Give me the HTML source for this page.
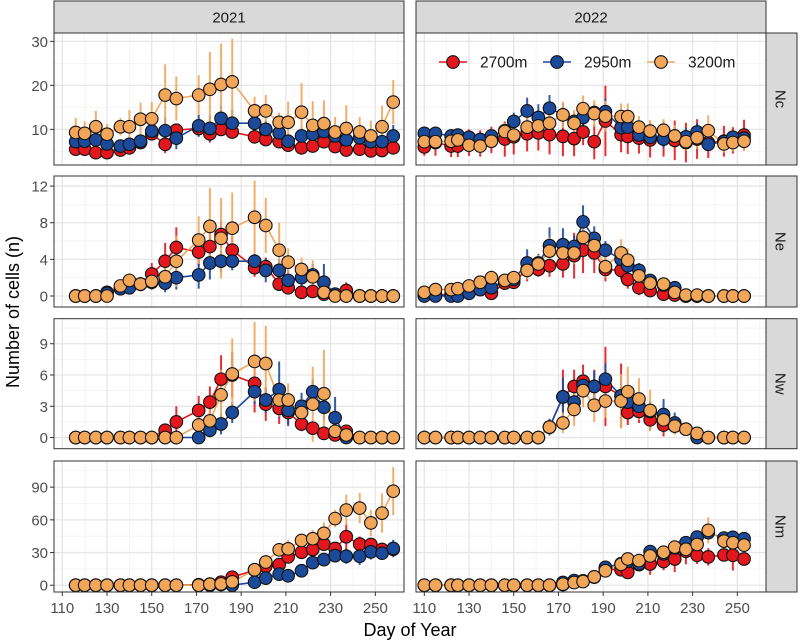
<!DOCTYPE html>
<html><head><meta charset="utf-8"><style>
html,body{margin:0;padding:0;background:#fff;}
svg{display:block;font-family:"Liberation Sans",Arial,sans-serif;}
</style></head><body>
<svg id="chart" width="800" height="643" xmlns="http://www.w3.org/2000/svg"></svg>
<script>
const years=["2021","2022"];
const rowsNames=["Nc","Ne","Nw","Nm"];
const series=["2700m","2950m","3200m"];
const days2021=[116,120,125,130,136,140,145,150,156,161,171,176,181,186,196,201,207,211,217,222,227,232,237,243,248,253,258];
const days2022=[110,115,122,125,130,135,140,146,150,156,161,166,172,177,181,186,191,198,201,206,211,217,222,227,232,237,244,248,253];
const xTicks=[110,130,150,170,190,210,230,250];
const yTicksNc=[10,20,30],yTicksNe=[0,4,8,12],yTicksNw=[0,3,6,9],yTicksNm=[0,30,60,90];
// Nc
const nc21_r=[5.5,5.5,4.7,4.7,5.3,5.8,7,9,6.6,9.8,10.2,9.0,10,9.4,8.3,7.7,7.2,6.4,5.8,6.2,7.2,6.1,5.3,5.5,5.1,5.2,5.8];
const nc21_b=[7.2,7.3,7.6,6.7,6.2,6.6,7.3,9.6,9.7,8.0,10.8,10.2,12.5,11.4,11.4,10,9.2,7.3,8.5,8.9,9.5,8.5,7.6,8.1,7.2,7.2,8.5];
const nc21_o=[9.3,9.1,10.6,8.9,10.6,10.6,12.3,12.4,17.8,17,17.8,19.1,20.2,20.8,14.2,14.2,11.6,11.6,13.9,10.9,11.3,9.4,10.2,9.4,8.5,10.6,16.2];
const nc21_re=[0.6,0.6,0.6,0.7,0.8,0.8,1,1.5,2,1.5,1.5,2,1.5,1.5,1.5,1.5,1,1.5,1,1,1,1,1,1,1,1,1];
const nc21_be=[1,1,1,1,1.5,1.5,1.5,2,3,2.5,2.5,3,3,3,2,2,2,1.5,2,2.5,2,2,2,1.5,1.5,1.5,2.5];
const nc21_oe=[3.3,2.7,3.6,2.3,2,3.8,3.8,3.8,7,5,4.5,8.5,9.3,9.8,3.2,3.6,2.2,4.7,6.6,5.5,5.3,3.4,5.3,3.4,3.5,4.8,5];
const nc22_r=[6,7,6.2,6.2,7,6.8,7.6,7.8,8.3,9,9.2,8.8,8.4,7.9,9.4,7.2,11.9,8.8,8.4,8,7.6,7.8,7.5,7,7.8,7,7.3,7.5,8.7];
const nc22_b=[9.1,9.1,8.5,8.7,8.2,7.7,8.5,9.7,11.8,14.2,12.7,14.8,13.3,11.8,12.7,13.8,14,10.4,10.5,8.7,8.2,7.8,8.5,8.3,9.4,6.6,7.2,8.2,8.0];
const nc22_o=[7.2,7.2,7.3,7.6,6.4,6.2,7.3,9.5,8.7,10.5,10.8,11.4,13.3,11.4,14.7,13.6,13,12.9,12.9,10.5,9.6,9.8,8.5,7.2,8.1,9.7,6.7,7,7.3];
const nc22_re=[2,3,2.5,2.5,3,3,3,4,4,4,4,4.5,4.5,4,3,4,8,4,4,3.5,4,4,4.5,4.5,4.5,3.5,3.5,3,3.5];
const nc22_be=[1.5,1.5,1.5,1.5,1.5,1.5,1.5,1.5,2,3,3,3,2.5,2,2,2,3,2,2,2,2,2,2,2,2,1.5,1.5,1.5,1.5];
const nc22_oe=[1.5,1.5,1.5,1.5,1.5,1.5,1.5,2,2,2.5,2.5,2.5,3,3,3,3,3.5,3,3,2.5,2.5,2.5,2.5,2,2.5,3.5,2,2,2];
// Ne
const ne21_r=[0,0,0,0.4,0.8,1.2,1.3,2.4,3.8,5.3,4.8,5.4,6.7,5.0,3.1,3.2,1.3,0.9,0.4,0.5,0.2,0.2,0.6,0,0,0,0];
const ne21_b=[0,0,0,0.3,0.8,0.9,1.3,1.5,1.4,2.0,2.3,3.6,3.8,3.8,3.8,2.8,2.8,1.7,2.0,2.3,1.5,0.2,0,0,0,0,0];
const ne21_o=[0,0,0,0,1.1,1.7,1.3,1.6,2.1,3.8,6.1,7.6,6.3,7.4,8.6,7.7,5.0,3.7,2.9,2.1,0.4,0,0,0,0,0,0];
const ne21_re=[0,0,0,0.2,0.4,0.6,0.8,1.2,2,2.2,1.5,1.6,1.5,1.5,1,1,0.6,0.6,0.6,0.6,0.3,0.3,0.9,0,0,0,0];
const ne21_be=[0,0,0,0.2,0.4,0.5,0.6,0.8,1,1.3,1.5,1.8,1.2,1,0.8,1.3,1.2,1.2,1.2,1.2,2,0.6,0,0,0,0,0];
const ne21_oe=[0,0,0,0,0.6,0.8,0.8,0.8,1.2,2.8,2.6,4.2,4.4,3.9,4,3,3,1.5,1.3,1.8,0.3,0,0,0,0,0,0];
const ne22_r=[0.1,0.1,0.2,0.1,0.6,0.8,0.3,1.4,1.5,2.9,2.9,3.3,3.5,4.4,5.0,4.7,2.9,2.8,1.8,0.9,0.6,0.2,0.1,0,0,0,0,0,0];
const ne22_b=[0,0,0,0,0.3,0.7,0.9,1.7,1.8,3.6,3.6,5.5,5.6,5.4,8.1,6.3,5.0,4.0,3.3,2.8,1.7,1.2,0.9,0,0,0,0,0,0];
const ne22_o=[0.4,0.7,0.7,0.8,1.1,1.5,2.0,1.7,2.0,2.8,3.5,4.9,4.7,4.7,6.4,5.5,3.2,4.7,3.9,2.2,1.4,1.3,0.4,0.1,0.1,0,0,0,0];
const ne22_re=[0.2,0.2,0.2,0.2,0.4,0.5,0.4,0.6,0.6,1.3,0.8,1.2,1.5,2.5,2.5,2.2,1.3,1,1,0.8,0.6,0.5,0.2,0,0,0,0,0,0];
const ne22_be=[0.2,0.2,0.2,0.2,0.3,0.4,0.5,0.7,0.7,1.5,1,2,1.8,1.2,1.8,1.3,1,0.8,0.8,0.8,0.5,0.5,0.4,0,0,0,0,0,0];
const ne22_oe=[0.3,0.3,0.3,0.3,0.4,0.6,0.8,0.7,0.7,1,1,1.5,1.5,1.2,1.5,1.5,1.2,1.5,1.3,1,0.6,0.6,0.3,0,0,0,0,0,0];
// Nw
const nw21_r=[0,0,0,0,0,0,0,0,0.7,1.5,2.6,3.4,5.6,6.0,5.2,3.2,2.8,2.4,1.3,0.9,0.4,0.25,0.6,0,0,0,0];
const nw21_b=[0,0,0,0,0,0,0,0,0,0,0,0.7,1.3,2.4,4.4,3.6,4.6,2.6,3.0,4.4,2.9,1.9,0,0,0,0,0];
const nw21_o=[0,0,0,0,0,0,0,0,0,0,1.2,1.6,4.1,6.1,7.3,7.1,3.6,3.6,2.4,3.2,4.2,0.6,0.25,0,0,0,0];
const nw21_re=[0,0,0,0,0,0,0,0,0.5,1.5,1.4,1.5,2.3,2.2,2.8,1.6,1.5,1.1,0.7,0.6,0.4,0.4,0.4,0,0,0,0];
const nw21_be=[0,0,0,0,0,0,0,0,0,0,0,0.7,1,1,1.2,1.2,2.7,1.5,1.3,1.2,1.2,2,0,0,0,0,0];
const nw21_oe=[0,0,0,0,0,0,0,0,0,0,1.2,1.6,2.4,3.4,3.8,3.6,1.6,1.6,1.3,3.6,4.2,0.6,0.3,0,0,0,0];
const nw22_r=[0,0,0,0,0,0,0,0,0,0,0,1.0,3.9,4.9,5.4,4.9,4.9,4.0,2.4,2.5,1.7,1.2,1.1,0.8,0.3,0,0,0,0];
const nw22_b=[0,0,0,0,0,0,0,0,0,0,0,1.0,3.9,3.4,5.0,4.9,5.6,4.0,3.4,3.0,2.5,2.2,1.4,0.8,0,0,0,0,0];
const nw22_o=[0,0,0,0,0,0,0,0,0,0,0,1.0,1.4,2.7,4.5,3.1,3.5,3.5,4.4,3.7,2.6,1.7,1.1,0.8,0.4,0,0,0,0];
const nw22_re=[0,0,0,0,0,0,0,0,0,0,0,0.6,2.6,1.6,1.6,1.6,3.8,3.1,1.2,1.1,1.0,1.1,0.8,0.6,0.4,0,0,0,0];
const nw22_be=[0,0,0,0,0,0,0,0,0,0,0,0.8,1.8,1.5,1.2,1.5,1.5,1.2,1.2,1.0,1.0,1.5,1.0,0.6,0.2,0,0,0,0];
const nw22_oe=[0,0,0,0,0,0,0,0,0,0,0,0.4,1.0,1.6,1.6,1.6,1.6,2.6,2.4,2.0,2.0,1.0,0.8,0.6,0.4,0,0,0,0];
// Nm
const nm21_r=[0,0,0,0,0,0,0,0,0,0,0.5,1,2.8,7.4,14,17.3,18.9,26,30.3,32.8,37.7,33.7,44.5,37.7,37.4,32.8,33];
const nm21_b=[0,0,0,0,0,0,0,0,0,0,0,0,0.6,0,2.8,6.5,10.2,8.7,13.3,20.7,23.5,27.2,26.6,26.6,30.6,29.4,33.7];
const nm21_o=[0,0,0,0,0,0,0,0,0,0,0,0.9,1.2,3.1,14.2,21.3,32.5,33.4,41.1,42.7,47.6,61.2,69,70.8,57.2,66.2,86.3];
const nm21_re=[0,0,0,0,0,0,0,0,0,0,0.5,1,2,3,4,5,5,5,5,6,6,6,12,7,6,5,6];
const nm21_be=[0,0,0,0,0,0,0,0,0,0,0,0,0.5,0.5,2,3,3,4,4,5,6,6,7,8,7,6,8];
const nm21_oe=[0,0,0,0,0,0,0,0,0,0,0,0.5,0.8,1,4,5,6,8,6,8,10,8,14,14,12,18,22];
const nm22_r=[0,0,0,0,0,0,0,0,0,0,0,0,0.6,3.7,4,7.7,14.8,14.2,11.8,18.9,19.5,21.7,24.1,31.2,27.5,26,27.8,27.5,24.1];
const nm22_b=[0,0,0,0,0,0,0,0,0,0,0,0,2.5,4.3,3.7,7.4,16.4,19.8,22,19.8,30.9,28.8,34.3,39,44.2,48.3,43.3,43.9,42.7];
const nm22_o=[0,0,0,0,0,0,0,0,0,0,0,0,1,2.5,3.4,7.7,13.3,19.2,24.1,22.6,26.9,30.3,35,33,37.4,50.4,40.5,39,36.8];
const nm22_re=[0,0,0,0,0,0,0,0,0,0,0,0,0.5,1,1.5,2,3,4,4,4,10,8,12,12,8,8,6,14,6];
const nm22_be=[0,0,0,0,0,0,0,0,0,0,0,0,1,1.5,1.5,2,4,4,4,4,5,5,5,5,5,6,6,5,5];
const nm22_oe=[0,0,0,0,0,0,0,0,0,0,0,0,0.5,1,1.5,2,3,4,4,4,5,5,6,5,6,12,5,6,5];

const NS="http://www.w3.org/2000/svg";
const svg=document.getElementById('chart');
function mk(tag,attrs,parent){const e=document.createElementNS(NS,tag);for(const k in attrs)e.setAttribute(k,attrs[k]);(parent||svg).appendChild(e);return e;}
const colors=["#e3171d","#1c4a9b","#f2a65a"];
const colL=[54,416],panelW=350;
const rowTop=[33,176,318.7,461],rowBot=[165,307,448.7,592];
const ydom=[[1.9,31.9],[-1.2,13.1],[-1.07,11.4],[-6.2,114]];
const ymaj=[yTicksNc,yTicksNe,yTicksNw,yTicksNm];
const ymin=[[5,15,25],[2,6,10],[1.5,4.5,7.5,10.5],[15,45,75,105]];
const data=[
 [[nc21_r,nc21_b,nc21_o,nc21_re,nc21_be,nc21_oe],[nc22_r,nc22_b,nc22_o,nc22_re,nc22_be,nc22_oe]],
 [[ne21_r,ne21_b,ne21_o,ne21_re,ne21_be,ne21_oe],[ne22_r,ne22_b,ne22_o,ne22_re,ne22_be,ne22_oe]],
 [[nw21_r,nw21_b,nw21_o,nw21_re,nw21_be,nw21_oe],[nw22_r,nw22_b,nw22_o,nw22_re,nw22_be,nw22_oe]],
 [[nm21_r,nm21_b,nm21_o,nm21_re,nm21_be,nm21_oe],[nm22_r,nm22_b,nm22_o,nm22_re,nm22_be,nm22_oe]]];
const daysArr=[days2021,days2022];
function xs(c,d){return colL[c]+8.3+(d-110)*2.236;}
function ys(r,v){const [a,b]=ydom[r];return rowBot[r]-(v-a)/(b-a)*(rowBot[r]-rowTop[r]);}

years.forEach((y,c)=>{
  const g=mk('g',{});
  
  
  mk('rect',{x:colL[c],y:1,width:panelW,height:32,fill:'#d9d9d9',stroke:'#333','stroke-width':1},g);
  const t=mk('text',{x:colL[c]+panelW/2,y:22.5,'text-anchor':'middle','font-size':15,fill:'#1a1a1a'},g);t.textContent=y;
});
rowsNames.forEach((n,r)=>{
  const g=mk('g',{});
  
  
  mk('rect',{x:766,y:rowTop[r],width:31,height:rowBot[r]-rowTop[r],fill:'#d9d9d9',stroke:'#333','stroke-width':1},g);
  const cx=781,cy=(rowTop[r]+rowBot[r])/2;
  const t=mk('text',{x:cx,y:cy+5.5,'text-anchor':'middle','font-size':15,fill:'#1a1a1a',transform:`rotate(90 ${cx} ${cy})`},g);t.textContent=n;
});

for(let r=0;r<4;r++){
 for(let c=0;c<2;c++){
  const pg=mk('g',{});
  
  
  const x0=colL[c],y0=rowTop[r],h=rowBot[r]-rowTop[r];
  mk('rect',{x:x0,y:y0,width:panelW,height:h,fill:'#fff'},pg);
  const clip=mk('clipPath',{id:'cp'+r+c},pg);mk('rect',{x:x0,y:y0,width:panelW,height:h},clip);
  const inner=mk('g',{'clip-path':`url(#cp${r}${c})`},pg);
  for(let d=120;d<=260;d+=20) mk('line',{x1:xs(c,d),x2:xs(c,d),y1:y0,y2:y0+h,stroke:'#f2f2f2','stroke-width':0.8},inner);
  ymin[r].forEach(v=>mk('line',{x1:x0,x2:x0+panelW,y1:ys(r,v),y2:ys(r,v),stroke:'#f2f2f2','stroke-width':0.8},inner));
  xTicks.forEach(d=>mk('line',{x1:xs(c,d),x2:xs(c,d),y1:y0,y2:y0+h,stroke:'#e6e6e6','stroke-width':1.3},inner));
  ymaj[r].forEach(v=>mk('line',{x1:x0,x2:x0+panelW,y1:ys(r,v),y2:ys(r,v),stroke:'#e6e6e6','stroke-width':1.3},inner));
  const D=data[r][c],days=daysArr[c];
  for(let s=0;s<3;s++){
    days.forEach((d,i)=>{const v=D[s][i],e=D[s+3][i];if(e>0){const l=mk('line',{x1:xs(c,d),x2:xs(c,d),y1:ys(r,v-e),y2:ys(r,v+e),stroke:colors[s],'stroke-width':2,'stroke-opacity':0.9},inner);
      
      }});
  }
  for(let s=0;s<3;s++){
    const pts=days.map((d,i)=>xs(c,d).toFixed(1)+','+ys(r,D[s][i]).toFixed(1)).join(' ');
    const pl=mk('polyline',{points:pts,fill:'none',stroke:colors[s],'stroke-width':1.6},inner);
    
    
  }
  for(let s=0;s<3;s++){
    days.forEach((d,i)=>{const p=mk('circle',{cx:xs(c,d),cy:ys(r,D[s][i]),r:6.3,fill:colors[s],stroke:'#111','stroke-width':1.1},inner);
      
      });
  }
  mk('rect',{x:x0,y:y0,width:panelW,height:h,fill:'none',stroke:'#333','stroke-width':1},pg);
  if(c===0){
    ymaj[r].forEach(v=>{const y=ys(r,v);if(y<y0||y>y0+h)return;
      mk('line',{x1:x0-4,x2:x0,y1:y,y2:y,stroke:'#333','stroke-width':1},pg);
      const t=mk('text',{x:x0-6,y:y+5.5,'text-anchor':'end','font-size':15,fill:'#4d4d4d'},pg);t.textContent=v;
      
      });
  }
  if(r===3){
    xTicks.forEach(d=>{const x=xs(c,d);
      mk('line',{x1:x,x2:x,y1:y0+h,y2:y0+h+4,stroke:'#333','stroke-width':1},pg);
      const t=mk('text',{x:x,y:613,'text-anchor':'middle','font-size':15,fill:'#4d4d4d'},pg);t.textContent=d;
      
      });
  }
 }
}
const lg=mk('g',{});


const lx=[453,557,661],ltx=[480,584,688];
series.forEach((s,i)=>{
  const e=mk('g',{},lg);
  
  
  mk('line',{x1:lx[i]-14,x2:lx[i]+14,y1:62,y2:62,stroke:colors[i],'stroke-width':1.6},e);
  mk('circle',{cx:lx[i],cy:62,r:6.3,fill:colors[i],stroke:'#111','stroke-width':1.1},e);
  const t=mk('text',{x:ltx[i],y:67.5,'font-size':15.5,fill:'#1a1a1a'},e);t.textContent=s;
});
const xt=mk('text',{x:410,y:636,'text-anchor':'middle','font-size':18,fill:'#000'});xt.textContent='Day of Year';


const yt=mk('text',{x:19,y:312,'text-anchor':'middle','font-size':18,fill:'#000',transform:'rotate(-90 19 312)'});yt.textContent='Number of cells (n)';


</script>
</body></html>
